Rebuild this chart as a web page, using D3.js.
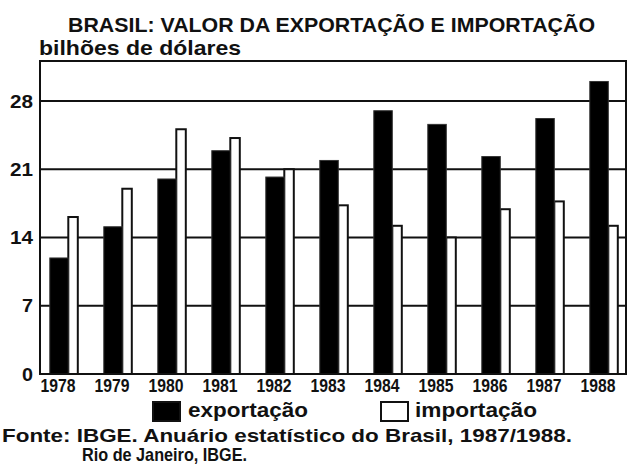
<!DOCTYPE html>
<html>
<head>
<meta charset="utf-8">
<script src="https://cdn.jsdelivr.net/npm/d3@7"></script>
<style>
  body { margin: 0; background: #fff; }
  text { font-family: "Liberation Sans Narrow", "Arial Narrow", "Liberation Sans", Arial, sans-serif; font-weight: bold; fill: #111; }
  .wide { font-family: "Liberation Sans", Arial, sans-serif; }
</style>
</head>
<body>
<div id="chart"></div>
<script>
// data (billion US$)
var years = ['1978', '1979', '1980', '1981', '1982', '1983', '1984', '1985', '1986', '1987', '1988'];
var exportacao = [11.9, 15.1, 20.0, 22.9, 20.2, 21.9, 27.0, 25.6, 22.3, 26.2, 30.0];
var importacao = [16.1, 19.0, 25.1, 24.2, 21.0, 17.3, 15.2, 14.0, 16.9, 17.7, 15.2];
var yTicks = [0, 7, 14, 21, 28];

var W = 629, H = 469;
var pLeft = 40, pRight = 626, pTop = 61, pBottom = 374;

var svg = d3.select('#chart').append('svg')
  .attr('width', W)
  .attr('height', H);

// scales
var x = d3.scaleBand()
  .domain(years)
  .range([pLeft, pLeft + 54 * years.length])
  .paddingInner(0);

var y = d3.scaleLinear()
  .domain([0, 32.1])
  .range([pBottom, pTop]);

// gridlines (behind bars)
svg.append('g')
  .selectAll('line')
  .data(yTicks.filter(function(d) { return d > 0; }))
  .enter().append('line')
  .attr('x1', pLeft).attr('x2', pRight)
  .attr('y1', function(d) { return y(d); })
  .attr('y2', function(d) { return y(d); })
  .attr('stroke', '#111')
  .attr('stroke-width', 2);

// bars
var rows = years.map(function(yr, i) { return {year: yr, exp: exportacao[i], imp: importacao[i]}; });

svg.append('g').selectAll('rect')
  .data(rows)
  .enter().append('rect')
  .attr('x', function(d) { return x(d.year) + 28.3; })
  .attr('y', function(d) { return y(d.imp); })
  .attr('width', 9.5)
  .attr('height', function(d) { return y(0) - y(d.imp); })
  .attr('fill', '#fff')
  .attr('stroke', '#111')
  .attr('stroke-width', 2);

svg.append('g').selectAll('rect')
  .data(rows)
  .enter().append('rect')
  .attr('x', function(d) { return x(d.year) + 9.8; })
  .attr('y', function(d) { return y(d.exp); })
  .attr('width', 18.5)
  .attr('height', function(d) { return y(0) - y(d.exp); })
  .attr('fill', '#000')
  .attr('stroke', '#333')
  .attr('stroke-width', 1);

// frame
svg.append('rect')
  .attr('x', pLeft).attr('y', pTop)
  .attr('width', pRight - pLeft).attr('height', pBottom - pTop)
  .attr('fill', 'none')
  .attr('stroke', '#111')
  .attr('stroke-width', 2);

// y tick labels
var yAxis = svg.append('g')
  .attr('transform', 'translate(' + pLeft + ',0)')
  .call(d3.axisLeft(y).tickValues(yTicks).tickSize(0).tickPadding(7));
yAxis.select('.domain').remove();
yAxis.selectAll('text')
  .attr('font-size', 19)
  .attr('textLength', function(d) { return d >= 10 ? 23 : 11; })
  .attr('lengthAdjust', 'spacingAndGlyphs')
  .attr('font-family', null);

// x tick labels
var xAxis = svg.append('g')
  .attr('transform', 'translate(-9,' + pBottom + ')')
  .call(d3.axisBottom(x).tickSize(0).tickPadding(4));
xAxis.select('.domain').remove();
xAxis.selectAll('text')
  .attr('font-size', 19)
  .attr('dy', '0.74em')
  .attr('textLength', 35)
  .attr('lengthAdjust', 'spacingAndGlyphs')
  .attr('font-family', null);

// title
svg.append('text')
  .attr('x', 68).attr('y', 32)
  .attr('font-size', 21)
  .attr('textLength', 527)
  .attr('lengthAdjust', 'spacingAndGlyphs')
  .text('BRASIL: VALOR DA EXPORTAÇÃO E IMPORTAÇÃO');

svg.append('text')
  .attr('class', 'wide')
  .attr('x', 39).attr('y', 55)
  .attr('font-size', 21)
  .attr('textLength', 202)
  .attr('lengthAdjust', 'spacingAndGlyphs')
  .text('bilhões de dólares');

// legend
var legend = [
  {label: 'exportação', fill: '#000', bx: 153, tx: 188, tw: 120},
  {label: 'importação', fill: '#fff', bx: 381, tx: 415, tw: 122}
];
var lg = svg.append('g').selectAll('g')
  .data(legend)
  .enter().append('g');
lg.append('rect')
  .attr('x', function(d) { return d.bx; })
  .attr('y', 402)
  .attr('width', 27)
  .attr('height', 19)
  .attr('fill', function(d) { return d.fill; })
  .attr('stroke', '#111')
  .attr('stroke-width', 2);
lg.append('text')
  .attr('x', function(d) { return d.tx; })
  .attr('y', 417)
  .attr('font-size', 20)
  .attr('textLength', function(d) { return d.tw; })
  .attr('lengthAdjust', 'spacingAndGlyphs')
  .text(function(d) { return d.label; });

// source
svg.append('text')
  .attr('x', 2).attr('y', 442)
  .attr('font-size', 19)
  .attr('textLength', 570)
  .attr('lengthAdjust', 'spacingAndGlyphs')
  .text('Fonte: IBGE. Anuário estatístico do Brasil, 1987/1988.');
svg.append('text')
  .attr('x', 82).attr('y', 461)
  .attr('font-size', 19)
  .attr('textLength', 165)
  .attr('lengthAdjust', 'spacingAndGlyphs')
  .text('Rio de Janeiro, IBGE.');
</script>
</body>
</html>
